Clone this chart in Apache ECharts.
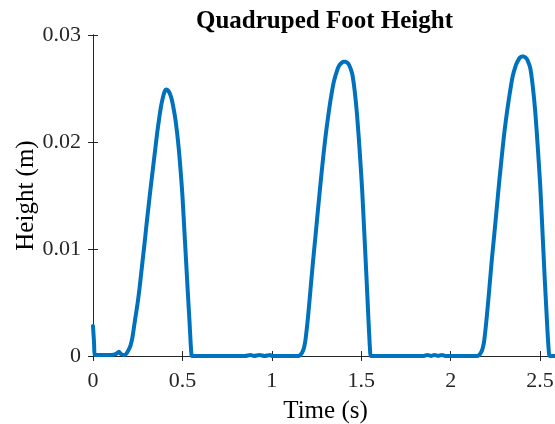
<!DOCTYPE html>
<html>
<head>
<meta charset="utf-8">
<script src="https://cdn.jsdelivr.net/npm/echarts@6/dist/echarts.min.js"></script>
<style>html,body{margin:0;padding:0;background:#fff;}#c{width:555px;height:424px;}</style>
</head>
<body>
<div id="c"></div>
<script>
const titleText = 'Quadruped Foot Height';
const xName = 'Time (s)';
const yName = 'Height (m)';
const xTickValues = [0, 0.5, 1, 1.5, 2, 2.5];
const xTickLabels = ['0', '0.5', '1', '1.5', '2', '2.5'];
const yTickValues = [0, 0.01, 0.02, 0.03];
const yTickLabels = ['0', '0.01', '0.02', '0.03'];

// time (s)
const timeValues = [
  0, 0.006, 0.011, 0.05, 0.10, 0.13, 0.145, 0.155, 0.17,
  0.18, 0.19, 0.20, 0.21, 0.22, 0.23, 0.24, 0.25, 0.26, 0.27, 0.28, 0.29, 0.30, 0.31, 0.32, 0.33, 0.34, 0.35, 0.36, 0.37, 0.38, 0.39, 0.40, 0.41,
  0.42, 0.43, 0.44, 0.45, 0.46, 0.47, 0.48, 0.49, 0.50, 0.51, 0.52, 0.53, 0.54, 0.546, 0.550, 0.553,
  0.6, 0.85, 0.88, 0.9, 0.93, 0.96, 0.99, 1.0, 1.15,
  1.160, 1.172, 1.18, 1.188, 1.202, 1.216, 1.230, 1.244, 1.258, 1.272, 1.286, 1.300, 1.314, 1.328, 1.346, 1.365, 1.378, 1.39, 1.401, 1.412, 1.422, 1.432, 1.449, 1.463, 1.477, 1.491, 1.505, 1.517, 1.529, 1.538, 1.544, 1.549, 1.553,
  1.6, 1.85, 1.87, 1.89, 1.91, 1.93, 1.95, 1.97, 2.15,
  2.160, 2.172, 2.180, 2.188, 2.202, 2.216, 2.230, 2.244, 2.258, 2.272, 2.286, 2.300, 2.314, 2.328, 2.346, 2.365, 2.376, 2.388, 2.398, 2.408, 2.418, 2.428, 2.445, 2.459, 2.473, 2.487, 2.501, 2.513, 2.525, 2.535, 2.542, 2.548, 2.553,
  2.6
];
// foot height (m)
const heightValues = [
  0.0028, 0.0012, 0.0001, 0.0001, 0.0001, 0.0002, 0.0004, 0.0002, 0.0001,
  0.0001, 0.0003, 0.0006, 0.0010, 0.0017, 0.0028, 0.0039, 0.0050, 0.0063, 0.0078, 0.0093, 0.0108, 0.0124, 0.0139, 0.0154, 0.0168, 0.0182, 0.0196, 0.0210, 0.0222, 0.0233, 0.0241, 0.0247, 0.0249,
  0.0248, 0.0245, 0.0240, 0.0232, 0.0222, 0.0209, 0.0193, 0.0173, 0.0150, 0.0120, 0.0090, 0.0060, 0.0031, 0.0012, 0.0002, 0,
  0, 0, 0.0001, 0, 0.0001, 0, 0.0001, 0, 0,
  0.0001, 0.0004, 0.0008, 0.0015, 0.0036, 0.0062, 0.0088, 0.0112, 0.0137, 0.0161, 0.0184, 0.0205, 0.0223, 0.0239, 0.0256, 0.0267, 0.0272, 0.0274, 0.0275, 0.0275, 0.0274, 0.0272, 0.0264, 0.0248, 0.0224, 0.0192, 0.0155, 0.0115, 0.0074, 0.0042, 0.0021, 0.0006, 0,
  0, 0, 0.0001, 0, 0.0001, 0, 0.0001, 0, 0,
  0.0001, 0.0004, 0.0008, 0.0015, 0.0037, 0.0063, 0.0090, 0.0114, 0.0139, 0.0164, 0.0187, 0.0209, 0.0227, 0.0243, 0.0261, 0.0272, 0.0276, 0.0279, 0.0280, 0.0280, 0.0279, 0.0277, 0.0269, 0.0252, 0.0228, 0.0195, 0.0158, 0.0117, 0.0075, 0.0043, 0.0021, 0.0006, 0,
  0
];

const seriesData = timeValues.map((t, i) => [t, heightValues[i]]);

function labelFor(values, labels) {
  return function (v) {
    for (let i = 0; i < values.length; i++) {
      if (Math.abs(values[i] - v) < 1e-9) return labels[i];
    }
    return '';
  };
}

const serif = 'Liberation Serif, Times New Roman, serif';
const axisColor = '#262626';

const chart = echarts.init(document.getElementById('c'), null, {renderer: 'canvas'});
chart.setOption({
  backgroundColor: '#ffffff',
  animation: false,
  title: {
    text: titleText,
    left: 191,
    top: 4,
    textStyle: {fontFamily: serif, fontWeight: 'bold', fontSize: 25, color: '#000'}
  },
  grid: {left: 93, top: 35, right: -3, bottom: 68, containLabel: false, outerBoundsMode: 'none'},
  xAxis: [{
    type: 'value', min: 0, max: 2.6, interval: 0.5,
    position: 'bottom',
    name: xName, nameLocation: 'middle', nameGap: 43, nameMoveOverlap: false,
    nameTextStyle: {fontFamily: serif, fontSize: 25, color: '#000'},
    axisLine: {show: true, lineStyle: {color: axisColor, width: 1}},
    axisTick: {show: true, inside: true, length: 5, lineStyle: {color: axisColor}},
    axisLabel: {fontFamily: serif, fontSize: 22, color: '#262626', margin: 14, formatter: labelFor(xTickValues, xTickLabels), showMaxLabel: false},
    splitLine: {show: false}
  }, {
    type: 'value', min: 0, max: 2.6, interval: 0.5,
    position: 'top',
    axisLine: {show: true, lineStyle: {color: axisColor, width: 1}},
    axisTick: {show: true, inside: true, length: 5, lineStyle: {color: axisColor}},
    axisLabel: {show: false},
    splitLine: {show: false}
  }],
  yAxis: [{
    type: 'value', min: 0, max: 0.03, interval: 0.01,
    position: 'left',
    name: yName, nameLocation: 'middle', nameGap: 54, nameRotate: 90, nameMoveOverlap: false,
    nameTextStyle: {fontFamily: serif, fontSize: 25, color: '#000'},
    axisLine: {show: true, lineStyle: {color: axisColor, width: 1}},
    axisTick: {show: true, inside: true, length: 5, lineStyle: {color: axisColor}},
    axisLabel: {fontFamily: serif, fontSize: 22, color: '#262626', margin: 12, formatter: labelFor(yTickValues, yTickLabels)},
    splitLine: {show: false}
  }, {
    type: 'value', min: 0, max: 0.03, interval: 0.01,
    position: 'right',
    axisLine: {show: true, lineStyle: {color: axisColor, width: 1}},
    axisTick: {show: true, inside: true, length: 5, lineStyle: {color: axisColor}},
    axisLabel: {show: false},
    splitLine: {show: false}
  }],
  series: [{
    type: 'line',
    data: seriesData,
    showSymbol: false,
    smooth: 0.2,
    clip: true,
    lineStyle: {color: '#0072BD', width: 4, cap: 'round', join: 'round'}
  }]
});
</script>
</body>
</html>
